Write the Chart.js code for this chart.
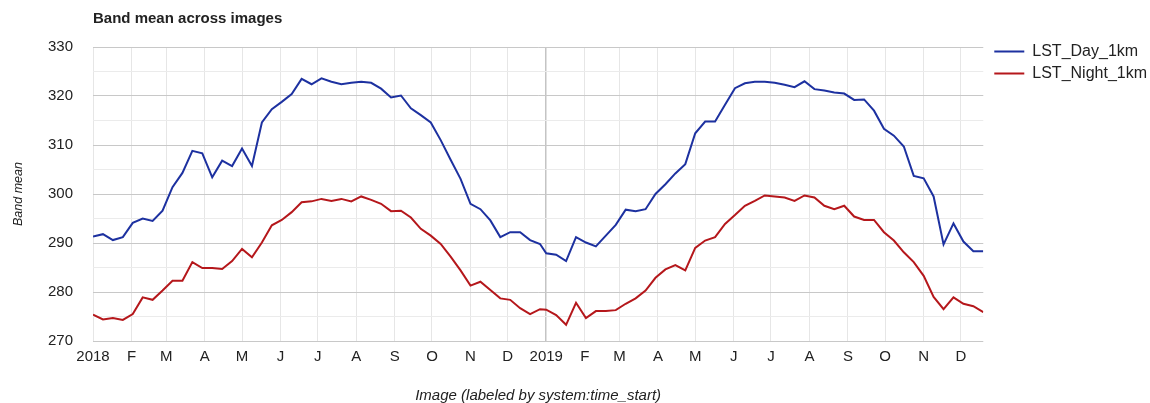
<!DOCTYPE html>
<html>
<head>
<meta charset="utf-8">
<title>Band mean across images</title>
<script src="https://cdn.jsdelivr.net/npm/chart.js@4.4.1/dist/chart.umd.min.js"></script>
<style>
  html, body { margin: 0; padding: 0; background: #fff; }
  #wrap { width: 1150px; height: 403px; position: relative; }
</style>
</head>
<body>
<div id="wrap"><canvas id="bandChart"></canvas></div>
<script>
// 8-day composite start days (day of year)
const compositeDoy = [1, 9, 17, 25, 33, 41, 49, 57, 65, 73, 81, 89, 97, 105, 113, 121,
  129, 137, 145, 153, 161, 169, 177, 185, 193, 201, 209, 217, 225, 233, 241, 249,
  257, 265, 273, 281, 289, 297, 305, 313, 321, 329, 337, 345, 353, 361];

// LST values, 2018 (46 images) then 2019 (45 images)
const dayLst2018 = [291.3, 291.8, 290.6, 291.2, 294.1, 295.0, 294.5, 296.6, 301.4, 304.3,
  308.8, 308.3, 303.4, 306.8, 305.7, 309.3, 305.7, 314.6, 317.3, 318.8,
  320.4, 323.5, 322.4, 323.6, 322.9, 322.4, 322.7, 322.9, 322.7, 321.5,
  319.7, 320.1, 317.5, 316.1, 314.6, 311.0, 307.0, 303.1, 298.0, 296.9,
  294.6, 291.2, 292.2, 292.2, 290.6, 289.8];
const dayLst2019 = [287.9, 287.6, 286.3, 291.2, 290.1, 289.3, 291.5, 293.7, 296.8, 296.5,
  296.9, 300.0, 302.0, 304.2, 306.1, 312.4, 314.8, 314.8, 318.2, 321.6,
  322.6, 322.9, 322.9, 322.7, 322.3, 321.8, 323.0, 321.4, 321.1, 320.7,
  320.5, 319.2, 319.3, 317.0, 313.3, 311.9, 309.7, 303.7, 303.2, 299.5,
  289.7, 294.0, 290.3, 288.3, 288.3];
const nightLst2018 = [275.4, 274.4, 274.7, 274.3, 275.5, 278.9, 278.4, 280.3, 282.3, 282.3,
  286.1, 284.9, 284.9, 284.7, 286.3, 288.8, 287.1, 290.1, 293.6, 294.7,
  296.3, 298.3, 298.5, 299.0, 298.6, 299.0, 298.5, 299.5, 298.8, 298.0,
  296.5, 296.6, 295.2, 292.9, 291.5, 289.8, 287.2, 284.4, 281.3, 282.1,
  280.4, 278.7, 278.4, 276.7, 275.5, 276.5];
const nightLst2019 = [276.4, 275.3, 273.3, 277.8, 274.7, 276.1, 276.1, 276.3, 277.6, 278.7,
  280.3, 282.9, 284.6, 285.5, 284.4, 289.0, 290.5, 291.2, 293.9, 295.7,
  297.6, 298.6, 299.7, 299.5, 299.3, 298.6, 299.7, 299.3, 297.6, 296.9,
  297.6, 295.4, 294.7, 294.7, 292.2, 290.5, 288.1, 286.1, 283.3, 279.0,
  276.5, 278.9, 277.6, 277.1, 275.9];

const monthLabels = ['2018', 'F', 'M', 'A', 'M', 'J', 'J', 'A', 'S', 'O', 'N', 'D',
  '2019', 'F', 'M', 'A', 'M', 'J', 'J', 'A', 'S', 'O', 'N', 'D'];
const yTicks = [270, 280, 290, 300, 310, 320, 330];

const DAY = 86400000;
const origin = Date.UTC(2018, 0, 1);
// days since 2018-01-01
function dayOffset(year, doy) {
  return (Date.UTC(year, 0, 1) - origin) / DAY + doy - 1;
}
const monthStarts = monthLabels.map((_, i) => (Date.UTC(2018 + Math.floor(i / 12), i % 12, 1) - origin) / DAY);

function toPoints(v2018, v2019) {
  const pts = v2018.map((v, i) => ({ x: dayOffset(2018, compositeDoy[i]), y: v }));
  return pts.concat(v2019.map((v, i) => ({ x: dayOffset(2019, compositeDoy[i]), y: v })));
}

// nudge the legend a few px right of the plot, like the original
const legendShift = {
  id: 'legendShift',
  afterLayout(chart) {
    chart.legend.left += 5;
    chart.legend.right += 5;
  }
};

const font = "'Liberation Sans', Arial, sans-serif";
Chart.defaults.font.family = font;
Chart.defaults.color = '#222';

const ctx = document.getElementById('bandChart').getContext('2d');
const bandChart = new Chart(ctx, {
  type: 'line',
  data: {
    datasets: [{
      label: 'LST_Day_1km',
      data: toPoints(dayLst2018, dayLst2019),
      borderColor: '#1d31a0',
      backgroundColor: '#1d31a0',
      borderWidth: 2,
      pointRadius: 0,
      tension: 0
    }, {
      label: 'LST_Night_1km',
      data: toPoints(nightLst2018, nightLst2019),
      borderColor: '#b5171b',
      backgroundColor: '#b5171b',
      borderWidth: 2,
      pointRadius: 0,
      tension: 0
    }]
  },
  options: {
    responsive: true,
    maintainAspectRatio: false,
    animation: false,
    layout: { padding: { left: 5, right: -2, top: 0, bottom: 0 } },
    scales: {
      x: {
        type: 'linear',
        min: 0,
        max: dayOffset(2019, 353),
        afterBuildTicks: (axis) => { axis.ticks = monthStarts.map(v => ({ value: v })); },
        ticks: {
          autoSkip: false,
          maxRotation: 0,
          padding: 7,
          color: '#222',
          font: { size: 15 },
          callback: (value) => monthLabels[monthStarts.indexOf(value)]
        },
        grid: {
          drawTicks: false,
          color: (c) => (c.tick && c.tick.value === 365 ? '#c4c4c4' : '#e6e6e6'),
          lineWidth: (c) => (c.tick && c.tick.value === 365 ? 1.5 : 1)
        },
        border: { display: false },
        title: {
          display: true,
          text: 'Image (labeled by system:time_start)',
          font: { size: 15, style: 'italic' },
          color: '#222',
          padding: { top: 14, bottom: -2 }
        }
      },
      y: {
        min: 270,
        max: 330,
        afterBuildTicks: (axis) => {
          const t = [];
          for (let v = 270; v <= 330; v += 5) t.push({ value: v });
          axis.ticks = t;
        },
        ticks: {
          padding: 20,
          color: '#222',
          font: { size: 15 },
          callback: (value) => (yTicks.includes(value) ? value : '')
        },
        grid: {
          drawTicks: false,
          color: (c) => (c.tick && c.tick.value % 10 === 0 ? '#c8c8c8' : '#ebebeb')
        },
        border: { display: false },
        title: {
          display: true,
          text: 'Band mean',
          font: { size: 12.5, style: 'italic' },
          color: '#222',
          padding: { top: 6, bottom: 2 }
        }
      }
    },
    plugins: {
      title: {
        display: true,
        text: 'Band mean across images',
        align: 'start',
        fullSize: false,
        color: '#222',
        font: { size: 15, weight: 'bold' },
        padding: { top: 10, bottom: 19 }
      },
      legend: {
        position: 'right',
        align: 'start',
        labels: {
          usePointStyle: true,
          pointStyle: 'line',
          pointStyleWidth: 30,
          color: '#222',
          font: { size: 16 },
          padding: 6
        },
        title: { display: true, text: ' ', font: { size: 12 }, padding: { top: 0, bottom: 23 } }
      },
      tooltip: { enabled: false }
    }
  },
  plugins: [legendShift]
});
</script>
</body>
</html>
